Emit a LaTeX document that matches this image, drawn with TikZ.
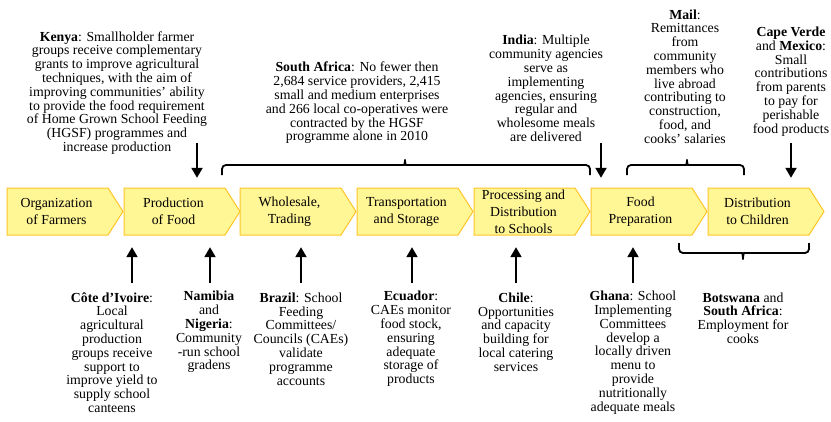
\documentclass[tikz,border=0pt]{standalone}
\usepackage{fontspec}
\setmainfont{Liberation Serif}
\usepackage{tikz}
\usetikzlibrary{arrows.meta,positioning}
\definecolor{chevfill}{RGB}{255,246,150}
\definecolor{chevline}{RGB}{255,196,40}
\tikzset{
node distance=4cm, % not really used, placement is by coordinates
chev/.style={line width=1, draw=chevline, fill=chevfill}, % the yellow steps
chevtext/.style={align=center, inner sep=0, minimum width=99, minimum height=47, font=\fontsize{13.8}{17}\selectfont},
note/.style={align=center, inner sep=0, font=\fontsize{13.8}{13.8}\selectfont}, % country examples
arr/.style={line width=2.1, -{Triangle[width=11pt,length=10pt]}},
bracket/.style={line width=1.8, rounded corners=4},
}

\begin{document}
\begin{tikzpicture}[x=1pt,y=1pt,yscale=-1,xscale=1]
		\useasboundingbox (0,0) rectangle (831,421); %set diagram size

		% Text Node
		\draw [chev] (7,188) -- (108,188) -- (123,211.5) -- (108,235) -- (7,235) -- cycle ;
		\node [chevtext] (org) at (56.5,211.5) {Organization\\of Farmers};
		% Text Node
		\draw [chev] (124,188) -- (225,188) -- (240,211.5) -- (225,235) -- (124,235) -- cycle ;
		\node [chevtext] (prod) at (173.5,211.5) {Production\\of Food};
		% Text Node
		\draw [chev] (240,188) -- (341,188) -- (356,211.5) -- (341,235) -- (240,235) -- cycle ;
		\node [chevtext] (whole) at (289.5,211.5) {Wholesale,\\Trading};
		% Text Node
		\draw [chev] (357,188) -- (458,188) -- (473,211.5) -- (458,235) -- (357,235) -- cycle ;
		\node [chevtext] (transp) at (406.5,211.5) {Transportation\\and Storage};
		% Text Node
		\draw [chev] (474,188) -- (575,188) -- (590,211.5) -- (575,235) -- (474,235) -- cycle ;
		\node [chevtext] (proc) at (523.5,211.5) {Processing and\\Distribution\\to Schools};
		% Text Node
		\draw [chev] (591,188) -- (692,188) -- (707,211.5) -- (692,235) -- (591,235) -- cycle ;
		\node [chevtext] (prep) at (640.5,211.5) {Food\\Preparation};
		% Text Node
		\draw [chev] (708,188) -- (809,188) -- (824,211.5) -- (809,235) -- (708,235) -- cycle ;
		\node [chevtext] (distr) at (757.5,211.5) {Distribution\\to Children};

		% Text Node
		\node [note] (kenya) at (117,93) {\textbf{Kenya}: Smallholder farmer\\groups receive complementary\\grants to improve agricultural\\techniques, with the aim of\\improving communities’ ability\\to provide the food requirement\\of Home Grown School Feeding\\(HGSF) programmes and\\increase production};
		% Text Node
		\node [note] (safrica) at (357,103) {\textbf{South Africa}: No fewer then\\2,684 service providers, 2,415\\small and medium enterprises\\and 266 local co-operatives were\\contracted by the HGSF\\programme alone in 2010};
		% Text Node
		\node [note] (india) at (546,88.5) {\textbf{India}: Multiple\\community agencies\\serve as\\implementing\\agencies, ensuring\\regular and\\wholesome meals\\are delivered};
		% Text Node
		\node [note] (mail) at (685,76.5) {\textbf{Mail}:\\Remittances\\from\\community\\members who\\live abroad\\contributing to\\construction,\\food, and\\cooks’ salaries};
		% Text Node
		\node [note] (capeverde) at (791,81.5) {\textbf{Cape Verde}\\and \textbf{Mexico}:\\Small\\contributions\\from parents\\to pay for\\perishable\\food products};

		% Text Node
		\node [note] (cote) at (112,352.5) {\textbf{Côte d’Ivoire}:\\Local\\agricultural\\production\\groups receive\\support to\\improve yield to\\supply school\\canteens};
		% Text Node
		\node [note] (namibia) at (209,332) {\textbf{Namibia}\\and\\\textbf{Nigeria}:\\Community\\-run school\\gradens};
		% Text Node
		\node [note] (brazil) at (301,339) {\textbf{Brazil}: School\\Feeding\\Committees/\\Councils (CAEs)\\validate\\programme\\accounts};
		% Text Node
		\node [note] (ecuador) at (411,339) {\textbf{Ecuador}:\\CAEs monitor\\food stock,\\ensuring\\adequate\\storage of\\products};
		% Text Node
		\node [note] (chile) at (516,332) {\textbf{Chile}:\\Opportunities\\and capacity\\building for\\local catering\\services};
		% Text Node
		\node [note] (ghana) at (633,352.5) {\textbf{Ghana}: School\\Implementing\\Committees\\develop a\\locally driven\\menu to\\provide\\nutritionally\\adequate meals};
		% Text Node
		\node [note] (botswana) at (743,318) {\textbf{Botswana} and\\\textbf{South Africa}:\\Employment for\\cooks};

		% Connection
		\coordinate (kenyatail) at (197,143);
		\draw [arr, shorten >=10pt] (kenyatail) -- (kenyatail |- prod.north) ;
		% Connection
		\coordinate (indiatail) at (601,143);
		\draw [arr, shorten >=10pt] (indiatail) -- (indiatail |- prep.north) ;
		% Connection
		\coordinate (capetail) at (791,143);
		\draw [arr, shorten >=10pt] (capetail) -- (capetail |- distr.north) ;

		% Connection
		\coordinate (cotetail) at (132,283);
		\draw [arr, shorten >=12pt] (cotetail) -- (cotetail |- prod.south) ;
		% Connection
		\coordinate (namibiatail) at (210,283);
		\draw [arr, shorten >=12pt] (namibiatail) -- (namibiatail |- prod.south) ;
		% Connection
		\coordinate (braziltail) at (301,283);
		\draw [arr, shorten >=12pt] (braziltail) -- (braziltail |- whole.south) ;
		% Connection
		\coordinate (ecuadortail) at (412,283);
		\draw [arr, shorten >=12pt] (ecuadortail) -- (ecuadortail |- transp.south) ;
		% Connection
		\coordinate (chiletail) at (516,283);
		\draw [arr, shorten >=12pt] (chiletail) -- (chiletail |- proc.south) ;
		% Connection
		\coordinate (ghanatail) at (633,283);
		\draw [arr, shorten >=12pt] (ghanatail) -- (ghanatail |- prep.south) ;

		% Brace
		\draw [bracket] (222,175) -- (222,165) -- (400,165) .. controls (404,165) and (405,163) .. (405,157) .. controls (405,163) and (406,165) .. (410,165) -- (590,165) -- (590,175) ;
		% Brace
		\draw [bracket] (627,175) -- (627,165) -- (682,165) .. controls (686,165) and (687,163) .. (687,157) .. controls (687,163) and (688,165) .. (692,165) -- (744,165) -- (744,175) ;
		% Brace
		\draw [bracket] (679,243) -- (679,253) -- (738,253) .. controls (742,253) and (743,255) .. (743,262) .. controls (743,255) and (744,253) .. (748,253) -- (809,253) -- (809,243) ;

\end{tikzpicture}
\end{document}
